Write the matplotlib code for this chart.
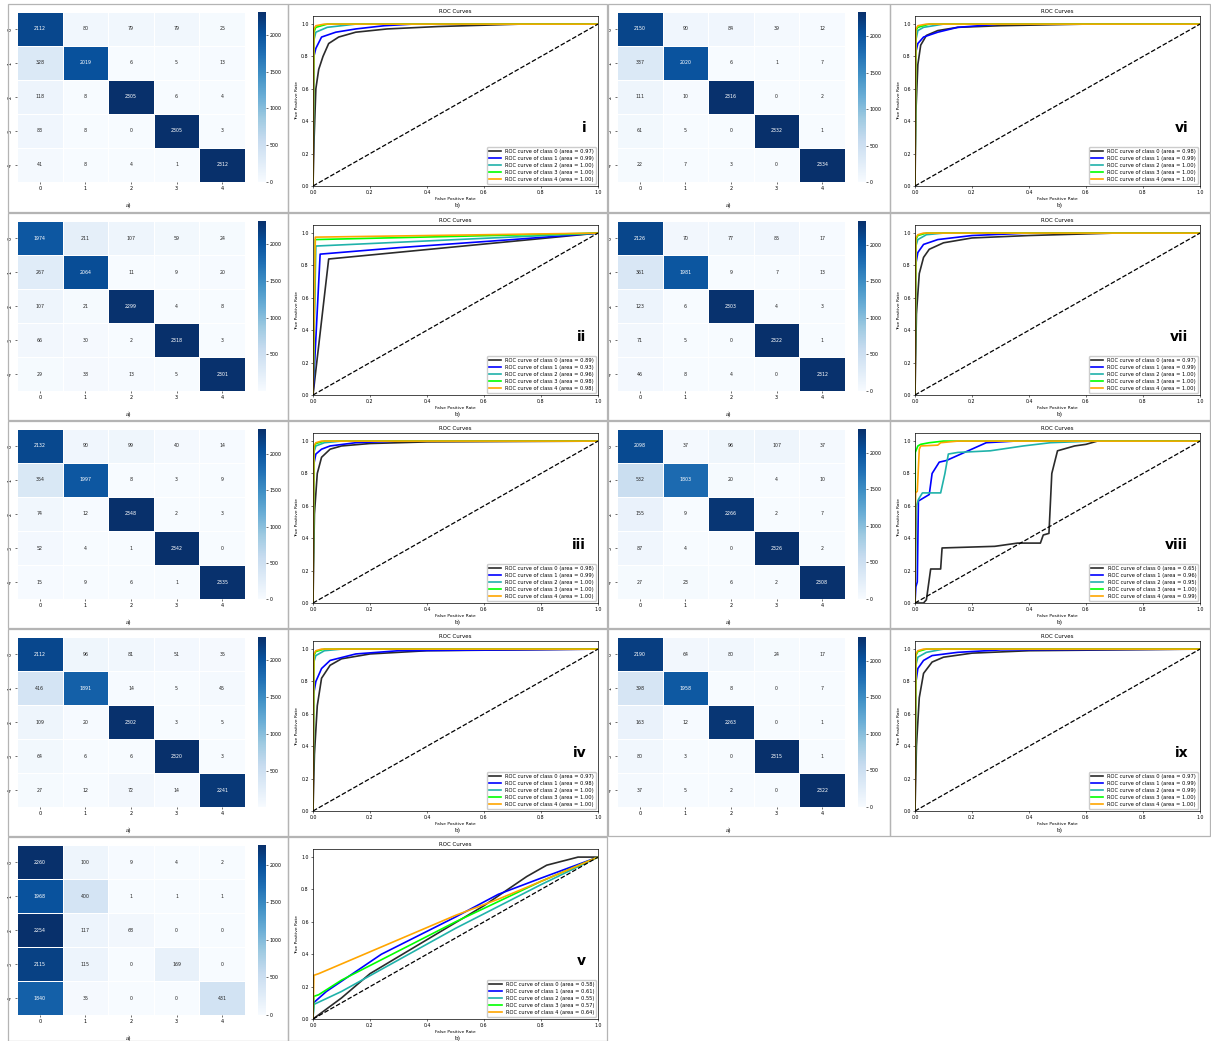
import numpy as np
import matplotlib
matplotlib.use('Agg')
import matplotlib.pyplot as plt
from matplotlib.patches import Rectangle

# --- confusion matrices ---
cm_i = [[2112, 80, 79, 79, 25], [328, 2019, 6, 5, 13], [118, 8, 2305, 6, 4],
        [83, 8, 0, 2305, 3], [41, 8, 4, 1, 2312]]
cm_ii = [[1974, 211, 107, 59, 24], [267, 2064, 11, 9, 20], [107, 21, 2299, 4, 8],
         [66, 30, 2, 2318, 3], [29, 38, 13, 5, 2301]]
cm_iii = [[2132, 90, 99, 40, 14], [354, 1997, 8, 3, 9], [74, 12, 2348, 2, 3],
          [52, 4, 1, 2342, 0], [15, 9, 6, 1, 2335]]
cm_iv = [[2112, 96, 81, 51, 35], [416, 1891, 14, 5, 45], [109, 20, 2302, 3, 5],
         [64, 6, 6, 2320, 3], [27, 12, 72, 14, 2241]]
cm_v = [[2260, 100, 9, 4, 2], [1968, 400, 1, 1, 1], [2254, 117, 68, 0, 0],
        [2115, 115, 0, 169, 0], [1840, 35, 0, 0, 431]]
cm_vi = [[2150, 90, 84, 39, 12], [337, 2020, 6, 1, 7], [111, 10, 2316, 0, 2],
         [61, 5, 0, 2332, 1], [22, 7, 3, 0, 2334]]
cm_vii = [[2126, 70, 77, 85, 17], [361, 1981, 9, 7, 13], [123, 6, 2303, 4, 3],
          [71, 5, 0, 2322, 1], [46, 8, 4, 0, 2312]]
cm_viii = [[2098, 37, 96, 107, 37], [532, 1803, 20, 4, 10], [155, 9, 2266, 2, 7],
           [87, 4, 0, 2326, 2], [27, 23, 6, 2, 2308]]
cm_ix = [[2190, 64, 80, 24, 17], [398, 1958, 8, 0, 7], [163, 12, 2263, 0, 1],
         [80, 3, 0, 2315, 1], [37, 5, 2, 0, 2322]]

# --- AUC values from the legends ---
auc_i = [0.97, 0.99, 1.00, 1.00, 1.00]
auc_ii = [0.89, 0.93, 0.96, 0.98, 0.98]
auc_iii = [0.98, 0.99, 1.00, 1.00, 1.00]
auc_iv = [0.97, 0.98, 1.00, 1.00, 1.00]
auc_v = [0.58, 0.61, 0.55, 0.57, 0.64]
auc_vi = [0.98, 0.99, 1.00, 1.00, 1.00]
auc_vii = [0.97, 0.99, 1.00, 1.00, 1.00]
auc_viii = [0.65, 0.96, 0.95, 1.00, 0.99]
auc_ix = [0.97, 0.99, 0.99, 1.00, 1.00]

# --- ROC curves (fpr, tpr) ---
roc_i = [
    ([0, 0.004, 0.01, 0.02, 0.035, 0.055, 0.09, 0.15, 0.26, 0.44, 0.73, 1],
     [0, 0.3, 0.6, 0.72, 0.8, 0.88, 0.92, 0.95, 0.97, 0.985, 1, 1]),
    ([0, 0.003, 0.01, 0.03, 0.08, 0.15, 0.25, 0.35, 1],
     [0, 0.8, 0.85, 0.92, 0.95, 0.97, 0.99, 1, 1]),
    ([0, 0.003, 0.01, 0.05, 0.15, 1], [0, 0.9, 0.95, 0.98, 1, 1]),
    ([0, 0.003, 0.01, 0.05, 1], [0, 0.95, 0.98, 1, 1]),
    ([0, 0.003, 0.01, 0.04, 1], [0, 0.97, 0.99, 1, 1]),
]
roc_ii = [
    ([0, 0.055, 1], [0, 0.84, 1]),
    ([0, 0.025, 0.3, 0.7, 1], [0, 0.87, 0.91, 0.96, 1]),
    ([0, 0.01, 1], [0, 0.92, 1]),
    ([0, 0.008, 1], [0, 0.96, 1]),
    ([0, 0.008, 1], [0, 0.975, 1]),
]
roc_iii = [
    ([0, 0.005, 0.015, 0.03, 0.06, 0.1, 0.2, 0.4, 1],
     [0, 0.55, 0.8, 0.9, 0.95, 0.97, 0.985, 0.995, 1]),
    ([0, 0.002, 0.01, 0.03, 0.06, 0.15, 0.3, 1], [0, 0.85, 0.92, 0.95, 0.97, 0.99, 1, 1]),
    ([0, 0.003, 0.01, 0.04, 0.1, 1], [0, 0.93, 0.97, 0.99, 1, 1]),
    ([0, 0.003, 0.01, 0.04, 1], [0, 0.96, 0.985, 1, 1]),
    ([0, 0.003, 0.01, 0.03, 1], [0, 0.97, 0.99, 1, 1]),
]
roc_iv = [
    ([0, 0.005, 0.015, 0.03, 0.06, 0.1, 0.2, 0.4, 1],
     [0, 0.35, 0.65, 0.82, 0.9, 0.94, 0.97, 0.99, 1]),
    ([0, 0.002, 0.01, 0.03, 0.06, 0.15, 0.3, 1], [0, 0.72, 0.8, 0.88, 0.93, 0.97, 0.99, 1]),
    ([0, 0.003, 0.01, 0.04, 0.1, 1], [0, 0.92, 0.96, 0.99, 1, 1]),
    ([0, 0.003, 0.01, 0.04, 1], [0, 0.96, 0.985, 1, 1]),
    ([0, 0.003, 0.01, 0.03, 1], [0, 0.97, 0.99, 1, 1]),
]
roc_v = [
    ([0, 0.1, 0.2, 0.4, 0.6, 0.75, 0.82, 0.93, 1],
     [0, 0.13, 0.28, 0.49, 0.7, 0.88, 0.95, 1, 1]),
    ([0, 0.002, 0.047, 0.24, 0.5, 0.65, 0.8, 1],
     [0, 0.1, 0.17, 0.4, 0.63, 0.77, 0.87, 1]),
    ([0, 0.003, 0.1, 0.5, 0.8, 1], [0, 0.09, 0.17, 0.56, 0.83, 1]),
    ([0, 0.003, 0.02, 0.1, 0.5, 0.8, 1], [0, 0.14, 0.15, 0.24, 0.6, 0.85, 1]),
    ([0, 0.003, 0.02, 0.5, 0.65, 0.8, 1], [0, 0.27, 0.28, 0.64, 0.74, 0.85, 1]),
]
roc_vi = [
    ([0, 0.003, 0.01, 0.02, 0.04, 0.08, 0.15, 0.3, 0.6, 1],
     [0, 0.45, 0.75, 0.87, 0.93, 0.96, 0.98, 0.99, 1, 1]),
    ([0, 0.002, 0.01, 0.03, 0.08, 0.15, 0.3, 1], [0, 0.82, 0.88, 0.92, 0.95, 0.98, 1, 1]),
    ([0, 0.003, 0.01, 0.03, 0.1, 1], [0, 0.9, 0.96, 0.98, 1, 1]),
    ([0, 0.003, 0.01, 0.05, 1], [0, 0.96, 0.98, 1, 1]),
    ([0, 0.003, 0.01, 0.04, 1], [0, 0.97, 0.99, 1, 1]),
]
roc_vii = [
    ([0, 0.005, 0.015, 0.03, 0.05, 0.1, 0.2, 0.4, 0.7, 1],
     [0, 0.5, 0.75, 0.85, 0.9, 0.94, 0.97, 0.985, 1, 1]),
    ([0, 0.002, 0.01, 0.03, 0.08, 0.2, 0.4, 1], [0, 0.8, 0.88, 0.93, 0.96, 0.985, 1, 1]),
    ([0, 0.003, 0.01, 0.04, 0.1, 1], [0, 0.92, 0.96, 0.99, 1, 1]),
    ([0, 0.003, 0.01, 0.04, 1], [0, 0.96, 0.985, 1, 1]),
    ([0, 0.003, 0.01, 0.03, 1], [0, 0.97, 0.99, 1, 1]),
]
roc_viii = [
    ([0, 0.03, 0.04, 0.055, 0.09, 0.095, 0.28, 0.36, 0.44, 0.45, 0.47, 0.48, 0.5, 0.52, 0.56, 0.6, 0.64, 1],
     [0, 0, 0.02, 0.21, 0.21, 0.34, 0.35, 0.37, 0.37, 0.42, 0.43, 0.8, 0.94, 0.95, 0.97, 0.98, 1, 1]),
    ([0, 0.003, 0.008, 0.012, 0.05, 0.06, 0.085, 0.11, 0.25, 0.35, 1],
     [0, 0.1, 0.13, 0.63, 0.67, 0.8, 0.87, 0.88, 0.99, 1, 1]),
    ([0, 0.005, 0.012, 0.026, 0.09, 0.1, 0.105, 0.117, 0.15, 0.264, 0.38, 0.475, 0.62, 1],
     [0, 0.6, 0.64, 0.68, 0.68, 0.76, 0.8, 0.92, 0.93, 0.94, 0.97, 0.99, 1, 1]),
    ([0, 0.001, 0.01, 0.02, 0.05, 0.1, 1], [0, 0.93, 0.97, 0.98, 0.99, 1, 1]),
    ([0, 0.002, 0.008, 0.015, 0.02, 0.08, 0.09, 0.15, 1],
     [0, 0.68, 0.69, 0.95, 0.97, 0.975, 0.99, 1, 1]),
]
roc_ix = [
    ([0, 0.005, 0.015, 0.03, 0.06, 0.1, 0.2, 0.4, 1],
     [0, 0.4, 0.7, 0.85, 0.92, 0.95, 0.975, 0.99, 1]),
    ([0, 0.002, 0.01, 0.03, 0.06, 0.15, 0.3, 1], [0, 0.78, 0.88, 0.93, 0.96, 0.98, 0.995, 1]),
    ([0, 0.003, 0.01, 0.04, 0.1, 1], [0, 0.9, 0.95, 0.98, 1, 1]),
    ([0, 0.003, 0.01, 0.04, 1], [0, 0.96, 0.985, 1, 1]),
    ([0, 0.003, 0.01, 0.03, 1], [0, 0.97, 0.99, 1, 1]),
]

roc_colors = ['#2b2b2b', 'blue', 'lightseagreen', 'lime', 'orange']
class_names = ['0', '1', '2', '3', '4']

# --- figure in pixels ---
W, H = 1211, 1041
fig = plt.figure(figsize=(W / 100, H / 100), dpi=100)


def px_axes(x, y, w, h):
    # x, y - top left corner in pixels
    return fig.add_axes([x / W, 1 - (y + h) / H, w / W, h / H])


def box(x, y, w, h):
    fig.add_artist(Rectangle((x / W, 1 - (y + h) / H), w / W, h / H, transform=fig.transFigure,
                             fill=False, edgecolor='#b4b4b4', lw=0.9))


def draw_cm(bx, by, cm):
    data = np.array(cm)
    ax = px_axes(bx + 9, by + 8, 228, 170)
    cax = px_axes(bx + 250, by + 8, 8, 170)
    vmin, vmax = data.min(), data.max()
    m = ax.pcolormesh(data, cmap='Blues', vmin=vmin, vmax=vmax, edgecolors='white', linewidth=0.4)
    ax.set_xlim(0, 5)
    ax.set_ylim(5, 0)
    cmap = plt.get_cmap('Blues')
    for r in range(5):
        for c in range(5):
            v = data[r, c]
            rgb = np.array(cmap((v - vmin) / (vmax - vmin))[:3])
            lum = 0.2126 * rgb[0] + 0.7152 * rgb[1] + 0.0722 * rgb[2]
            col = 'white' if lum < 0.408 else '#262626'
            ax.text(c + 0.5, r + 0.5, str(v), ha='center', va='center', fontsize=3.4, color=col)
    ax.set_xticks(np.arange(5) + 0.5)
    ax.set_yticks(np.arange(5) + 0.5)
    ax.set_xticklabels(class_names, fontsize=3.6)
    ax.set_yticklabels(class_names, fontsize=3.6, rotation=90, va='center')
    ax.tick_params(length=1.5, width=0.4, pad=1.5)
    for s in ax.spines.values():
        s.set_visible(False)
    cb = fig.colorbar(m, cax=cax)
    cb.outline.set_visible(False)
    cb.ax.tick_params(labelsize=3.4, length=1.5, width=0.4, pad=1)
    fig.text((bx + 120) / W, 1 - (by + 201) / H, 'a)', ha='center', va='center',
             fontsize=5, family='Liberation Serif')


def draw_roc(bx, by, curves, aucs, tag):
    ax = px_axes(bx + 25, by + 12, 285, 170)
    for k in range(5):
        fpr, tpr = curves[k]
        ax.plot(fpr, tpr, color=roc_colors[k], lw=1.2,
                label='ROC curve of class {0} (area = {1:0.2f})'.format(k, aucs[k]))
    ax.plot([0, 1], [0, 1], 'k--', lw=0.9)
    ax.set_xlim(0, 1)
    ax.set_ylim(0, 1.05)
    ax.set_xticks(np.arange(0, 1.01, 0.2))
    ax.set_yticks(np.arange(0, 1.01, 0.2))
    ax.tick_params(labelsize=3.4, length=1.5, width=0.4, pad=1.5)
    for s in ax.spines.values():
        s.set_linewidth(0.5)
    ax.set_xlabel('False Positive Rate', fontsize=3.2, labelpad=1.5)
    ax.set_ylabel('True Positive Rate', fontsize=3.2, labelpad=1.5)
    ax.set_title('ROC Curves', fontsize=4, pad=2.5)
    ax.legend(loc='lower right', fontsize=3.7, handlelength=2.4, borderaxespad=0.35,
              framealpha=1, edgecolor='#cccccc', fancybox=True, labelspacing=0.4)
    ax.text(0.958, 0.34, tag, transform=ax.transAxes, ha='right', va='center',
            fontsize=10, fontweight='bold')
    fig.text((bx + 170) / W, 1 - (by + 201) / H, 'b)', ha='center', va='center',
             fontsize=5, family='Liberation Serif')


row_top = [4, 213, 421, 629, 837]
row_h = [208, 207, 207, 207, 204]

left = [(cm_i, roc_i, auc_i, 'i'), (cm_ii, roc_ii, auc_ii, 'ii'),
        (cm_iii, roc_iii, auc_iii, 'iii'), (cm_iv, roc_iv, auc_iv, 'iv'),
        (cm_v, roc_v, auc_v, 'v')]
right = [(cm_vi, roc_vi, auc_vi, 'vi'), (cm_vii, roc_vii, auc_vii, 'vii'),
         (cm_viii, roc_viii, auc_viii, 'viii'), (cm_ix, roc_ix, auc_ix, 'ix')]

for r, (cm, roc, auc, tag) in enumerate(left):
    y0, h = row_top[r], row_h[r]
    box(8, y0, 280, h)
    box(288, y0, 319, h)
    draw_cm(8, y0, cm)
    draw_roc(288, y0, roc, auc, tag)

for r, (cm, roc, auc, tag) in enumerate(right):
    y0, h = row_top[r], row_h[r]
    box(608, y0, 282, h)
    box(890, y0, 320, h)
    draw_cm(608, y0, cm)
    draw_roc(890, y0, roc, auc, tag)

fig.savefig('out.png', dpi=100, facecolor='white')
